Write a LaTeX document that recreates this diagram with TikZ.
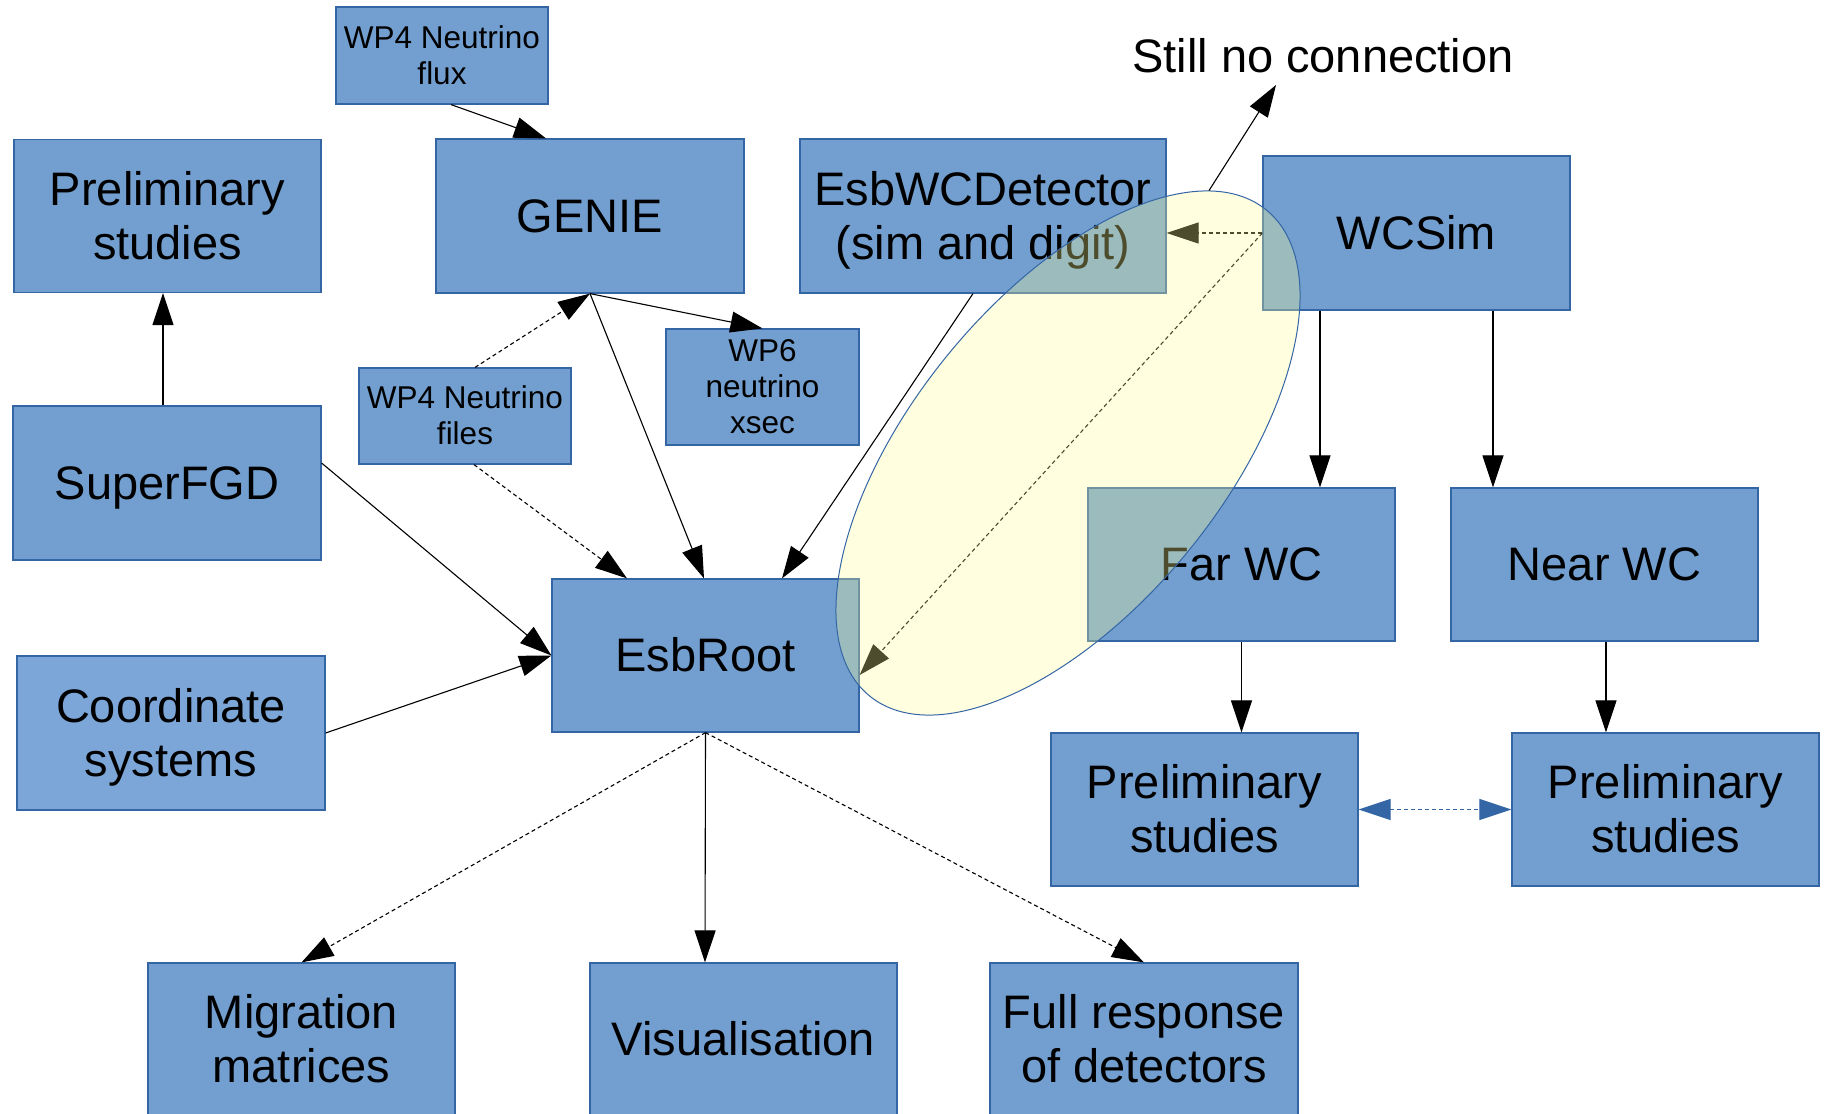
\documentclass[tikz,border=0pt]{standalone}
\usepackage{fontspec}
\setmainfont{Liberation Sans}
\usetikzlibrary{arrows.meta,shapes.geometric}
\definecolor{boxfill}{HTML}{729FCF}
\definecolor{boxline}{HTML}{3465A4}
\definecolor{boxfilllight}{HTML}{7CA6D8}
\definecolor{ellfill}{RGB}{255,255,150}
\newcommand{\fs}{\rule[-0.212em]{0pt}{1.117em}}
\begin{document}
\begin{tikzpicture}[x=1pt,y=1pt,
  box/.style={draw=boxline, fill=boxfill, line width=1.2pt, inner sep=0pt, align=center,
    font=\fontsize{47}{54}\selectfont, minimum width=307pt, minimum height=153pt},
  sbox/.style={box, font=\fontsize{31.5}{36}\selectfont},
  conn/.style={line width=1.1pt, -{Triangle[length=32pt,width=21pt]}},
  dconn/.style={conn, dash pattern=on 4pt off 3pt},
  bconn/.style={line width=1.1pt, draw=boxline, dash pattern=on 4pt off 3pt,
    {Triangle[length=32pt,width=21pt]}-{Triangle[length=32pt,width=21pt]}},
]
\useasboundingbox (0,0) rectangle (1829,-1114);
\fill[white] (0,0) rectangle (1829,-1114);

% boxes
\node[sbox, minimum width=212pt, minimum height=97pt] (flux) at (442,-55.5) {\fs WP4 Neutrino\\flux\fs};
\node[box] (prelimL) at (167.5,-216) {\fs Preliminary\\studies\fs};
\node[box, minimum width=308pt, minimum height=154pt] (genie) at (590,-216) {\fs GENIE\fs};
\node[box, minimum width=366pt, minimum height=154pt] (esbwc) at (983,-216) {\fs EsbWCDetector\\(sim and digit)\fs};
\node[box, minimum height=154pt] (wcsim) at (1416.5,-233) {\fs WCSim\fs};
\node[sbox, minimum width=193pt, minimum height=116pt] (wp6) at (762.5,-387) {\fs WP6\\neutrino\\xsec\fs};
\node[sbox, minimum width=212pt, minimum height=96pt] (files) at (465,-416) {\fs WP4 Neutrino\\files\fs};
\node[box, minimum width=308pt, minimum height=154pt] (sfgd) at (167,-483) {\fs SuperFGD\fs};
\node[box] (farwc) at (1241.5,-564.5) {\fs Far WC\fs};
\node[box] (nearwc) at (1604.5,-564.5) {\fs Near WC\fs};
\node[box] (esbroot) at (705.5,-655.5) {\fs EsbRoot\fs};
\node[box, fill=boxfilllight, minimum width=308pt, minimum height=154pt] (coord) at (171,-733) {\fs Coordinate\\systems\fs};
\node[box] (prelimM) at (1204.5,-809.5) {\fs Preliminary\\studies\fs};
\node[box] (prelimR) at (1665.5,-809.5) {\fs Preliminary\\studies\fs};
\node[box] (migr) at (301.5,-1039.5) {\fs Migration\\matrices\fs};
\node[box] (vis) at (743.5,-1039.5) {\fs Visualisation\fs};
\node[box, minimum width=308pt] (full) at (1144,-1039.5) {\fs Full response\\of detectors\fs};

\node[font=\fontsize{47}{54}\selectfont, anchor=base, inner sep=0pt] (snc) at (1323,-72) {Still no connection};
\coordinate (sncpt) at (1276,-85);

% connectors
\draw[conn] ([xshift=9pt]flux.south) -- ([xshift=-44pt]genie.north);
\draw[conn] ([xshift=-4pt]sfgd.north) -- ([xshift=-4.5pt]prelimL.south);
\draw[dconn] ([xshift=10pt]files.north) -- (genie.south);
\draw[conn] (genie.south) -- (wp6.north);
\draw[conn] (genie.south) -- ([xshift=-1.5pt]esbroot.north);
\draw[dconn] ([xshift=9pt]files.south) -- ([xshift=-78.5pt]esbroot.north);
\draw[conn] ([xshift=-10pt]esbwc.south) -- ([xshift=76.5pt]esbroot.north);
\draw[conn] ([yshift=20pt]sfgd.east) -- (esbroot.west);
\draw[conn] (coord.east) -- (esbroot.west);
\draw[dconn] (esbroot.south) -- (migr.north);
\draw[conn] (esbroot.south) -- ([xshift=-38.5pt]vis.north);
\draw[dconn] (esbroot.south) -- (full.north);
\draw[dconn] (wcsim.west) -- ([yshift=-17pt]esbwc.east);
\draw[dconn] (wcsim.west) -- ([yshift=-19.5pt]esbroot.east);
\draw[conn] ([xshift=-96.5pt]wcsim.south) -- ([xshift=78.5pt]farwc.north);
\draw[conn] ([xshift=76.5pt]wcsim.south) -- ([xshift=-111.5pt]nearwc.north);
\draw[conn] (farwc.south) -- ([xshift=37pt]prelimM.north);
\draw[conn] ([xshift=1.5pt]nearwc.south) -- ([xshift=-59.5pt]prelimR.north);
\draw[bconn] (prelimM.east) -- (prelimR.west);

% translucent ellipse
\node[ellipse, draw=boxline, line width=1pt, fill=ellfill, fill opacity=0.3, draw opacity=1,
  inner sep=0pt, minimum width=627.4pt, minimum height=310.4pt, rotate=50.75] (ell) at (1068,-453) {};
\draw[conn] (ell.11.3) -- (sncpt);
\end{tikzpicture}
\end{document}
